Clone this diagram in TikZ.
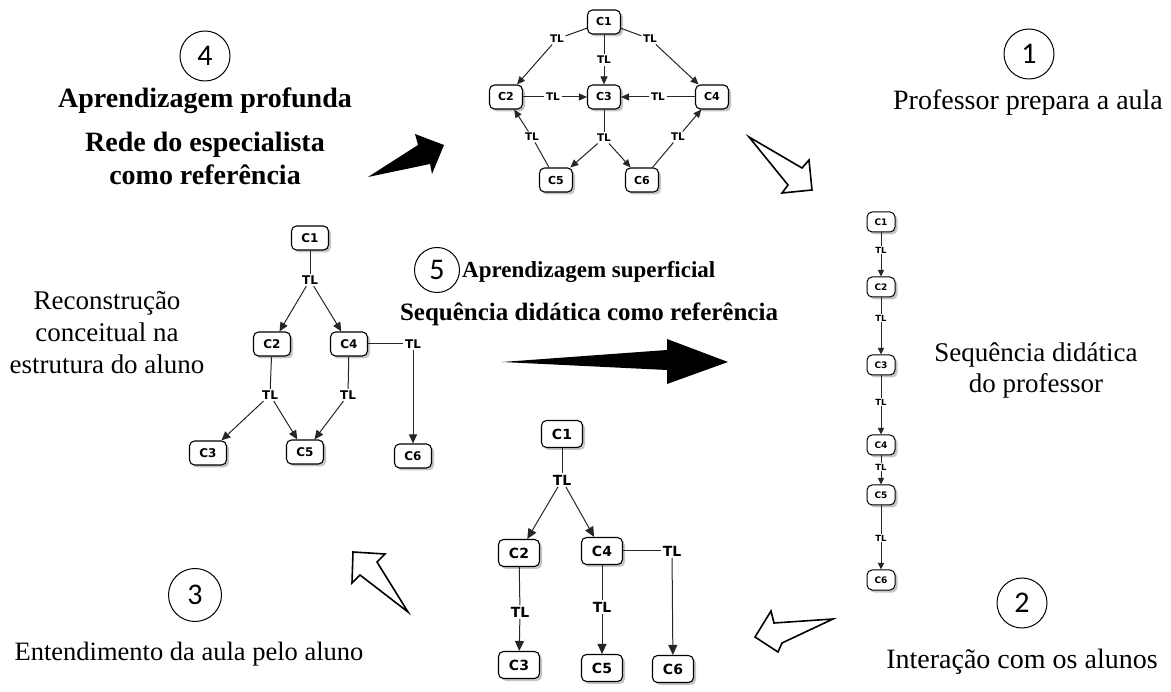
\documentclass[tikz,border=0pt]{standalone}
\usepackage{fontspec}
\setmainfont{Liberation Serif}
\newfontfamily\boxfont{DejaVu Sans}
\newfontfamily\numfont{Carlito}
\usetikzlibrary{arrows.meta,shadows}

\begin{document}
\begin{tikzpicture}[x=1pt,y=-1pt,
  concept/.style={draw=black, line width=1.1pt, rounded corners=5pt, fill=white,
    inner sep=0pt,
    drop shadow={shadow xshift=2.5pt, shadow yshift=-2.5pt, fill=black!45}},
  topc/.style={concept, minimum width=33pt, minimum height=24pt,
    font=\boxfont\bfseries\fontsize{11}{11}\selectfont},
  leftc/.style={concept, minimum width=37pt, minimum height=24pt,
    font=\boxfont\bfseries\fontsize{12}{12}\selectfont},
  botc/.style={concept, minimum width=41pt, minimum height=27pt,
    font=\boxfont\bfseries\fontsize{14}{14}\selectfont},
  chainc/.style={concept, minimum width=28pt, minimum height=20pt, line width=1pt,
    font=\boxfont\bfseries\fontsize{9}{9}\selectfont},
  tla/.style={inner sep=1.5pt, fill=white, font=\boxfont\bfseries\fontsize{10.5}{10.5}\selectfont},
  tlb/.style={inner sep=1.5pt, fill=white, font=\boxfont\bfseries\fontsize{12}{12}\selectfont},
  tlc/.style={inner sep=1.5pt, fill=white, font=\boxfont\bfseries\fontsize{14}{14}\selectfont},
  tld/.style={inner sep=1pt, fill=white, font=\boxfont\bfseries\fontsize{8.5}{8.5}\selectfont},
  link/.style={draw=black!85, line width=1pt},
  arra/.style={link, -{Triangle[length=8pt,width=7pt]}},
  arrb/.style={link, -{Triangle[length=9pt,width=8pt]}},
  arrc/.style={link, -{Triangle[length=10pt,width=9pt]}},
  arrd/.style={link, -{Triangle[length=6.5pt,width=6pt]}},
  numc/.style={circle, draw=black, line width=1pt, minimum size=50pt, inner sep=0pt,
    font=\numfont\fontsize{30}{30}\selectfont},
  txt/.style={anchor=base, font=\fontsize{28}{32}\selectfont, inner sep=0pt},
  txtb/.style={txt, font=\bfseries\fontsize{28}{32}\selectfont},
  blackarrow/.style={fill=black},
  whitearrow/.style={draw=black, fill=white, line width=1.6pt, line join=miter}
]
\useasboundingbox (0,0) rectangle (1171,692);

% ---------- expert network (top) ----------
\node[topc] (a1) at (604,22) {C1};
\node[topc] (a2) at (506,97) {C2};
\node[topc] (a3) at (604,97) {C3};
\node[topc] (a4) at (712,97) {C4};
\node[topc] (a5) at (556,180) {C5};
\node[topc] (a6) at (642,180) {C6};
\node[tla] (a12) at (557,39) {TL};
\node[tla] (a13) at (604,60) {TL};
\node[tla] (a14) at (650,39) {TL};
\node[tla] (a23) at (553,97) {TL};
\node[tla] (a43) at (658,97) {TL};
\node[tla] (a356) at (604,138) {TL};
\node[tla] (a52) at (532,137) {TL};
\node[tla] (a64) at (678,137) {TL};
\draw[link] (a1) -- (a12); \draw[arra] (a12) -- (a2);
\draw[link] (a1) -- (a13); \draw[arra] (a13) -- (a3);
\draw[link] (a1) -- (a14); \draw[arra] (a14) -- (a4);
\draw[link] (a2) -- (a23); \draw[arra] (a23) -- (a3);
\draw[link] (a4) -- (a43); \draw[arra] (a43) -- (a3);
\draw[link] (a3) -- (a356); \draw[arra] (a356) -- (a5); \draw[arra] (a356) -- (a6);
\draw[link] (a5) -- (a52); \draw[arra] (a52) -- (a2);
\draw[link] (a6) -- (a64); \draw[arra] (a64) -- (a4);

% ---------- student reconstruction (left) ----------
\node[leftc] (b1) at (310,238) {C1};
\node[leftc] (b2) at (272,344) {C2};
\node[leftc] (b4) at (349,344) {C4};
\node[leftc] (b3) at (208,453) {C3};
\node[leftc] (b5) at (305,452) {C5};
\node[leftc] (b6) at (413,456) {C6};
\node[tlb] (bt1) at (310,280) {TL};
\node[tlb] (bt2) at (270,395) {TL};
\node[tlb] (bt4) at (348,395) {TL};
\node[tlb] (bt46) at (413,344) {TL};
\draw[link] (b1) -- (bt1); \draw[arrb] (bt1) -- (b2); \draw[arrb] (bt1) -- (b4);
\draw[link] (b2) -- (bt2); \draw[arrb] (bt2) -- (b3); \draw[arrb] (bt2) -- (b5);
\draw[link] (b4) -- (bt4); \draw[arrb] (bt4) -- (b5);
\draw[link] (b4) -- (bt46); \draw[arrb] (bt46) -- (b6);

% ---------- lesson as received (bottom) ----------
\node[botc] (c1) at (562,434) {C1};
\node[botc] (c2) at (519,553) {C2};
\node[botc] (c4) at (602,551) {C4};
\node[botc] (c3) at (519,665) {C3};
\node[botc] (c5) at (602,668) {C5};
\node[botc] (c6) at (673,669) {C6};
\node[tlc] (ct1) at (562,480) {TL};
\node[tlc] (ct2) at (520,612) {TL};
\node[tlc] (ct4) at (602,607) {TL};
\node[tlc] (ct46) at (672,551) {TL};
\draw[link] (c1) -- (ct1); \draw[arrc] (ct1) -- (c2); \draw[arrc] (ct1) -- (c4);
\draw[link] (c2) -- (ct2); \draw[arrc] (ct2) -- (c3);
\draw[link] (c4) -- (ct4); \draw[arrc] (ct4) -- (c5);
\draw[link] (c4) -- (ct46); \draw[arrc] (ct46) -- (c6);

% ---------- teaching sequence (right) ----------
\node[chainc] (d1) at (881,222) {C1};
\node[chainc] (d2) at (881,287) {C2};
\node[chainc] (d3) at (881,365) {C3};
\node[chainc] (d4) at (881,445) {C4};
\node[chainc] (d5) at (881,495) {C5};
\node[chainc] (d6) at (881,580) {C6};
\node[tld] (dt1) at (881,250) {TL};
\node[tld] (dt2) at (881,318) {TL};
\node[tld] (dt3) at (881,402) {TL};
\node[tld] (dt4) at (881,467) {TL};
\node[tld] (dt5) at (881,538) {TL};
\draw[link] (d1) -- (dt1); \draw[arrd] (dt1) -- (d2);
\draw[link] (d2) -- (dt2); \draw[arrd] (dt2) -- (d3);
\draw[link] (d3) -- (dt3); \draw[arrd] (dt3) -- (d4);
\draw[link] (d4) -- (dt4); \draw[arrd] (dt4) -- (d5);
\draw[link] (d5) -- (dt5); \draw[arrd] (dt5) -- (d6);

% ---------- step numbers ----------
\node[numc] (n1) at (1029,54) {1};
\node[numc] (n2) at (1022,603) {2};
\node[numc, minimum size=53pt] (n3) at (195,595) {3};
\node[numc] (n4) at (205,56) {4};
\node[numc, minimum size=45pt] (n5) at (437,270) {5};

% ---------- captions ----------
\node[txt] (cap1) at (1028,110) {Professor prepara a aula};
\node[txt] (cap2) at (1022,668) {Interação com os alunos};
\node[txt, font=\fontsize{26.5}{30}\selectfont] (cap3) at (189,660) {Entendimento da aula pelo aluno};
\node[txtb] (cap4a) at (205,108) {Aprendizagem profunda};
\node[txtb, align=center, font=\bfseries\fontsize{28}{33}\selectfont] (cap4b) at (205,185) {Rede do especialista\\como referência};
\node[txtb, anchor=base west, font=\bfseries\fontsize{23}{28}\selectfont] (cap5a) at (462,278) {Aprendizagem superficial};
\node[txtb, font=\bfseries\fontsize{25}{28}\selectfont] (cap5b) at (589,321) {Sequência didática como referência};
\node[txt, align=center, font=\fontsize{27}{31}\selectfont] (capseq) at (1036,393) {Sequência didática\\do professor};
\node[txt, align=center, font=\fontsize{27}{32}\selectfont] (caprec) at (107,374) {Reconstrução\\conceitual na\\estrutura do aluno};

% ---------- big block arrows ----------
\fill[blackarrow] (368,177) -- (418,145) -- (415,134) -- (444,145) -- (432,174) -- (430,164) -- cycle;
\fill[blackarrow] (502,362) -- (667,350) -- (667,339) -- (728,362) -- (667,384) -- (667,370) -- cycle;
\draw[whitearrow] (749,137) -- (788,185) -- (782,193) -- (812,190) -- (809,160) -- (802,168) -- cycle;
\draw[whitearrow] (833,619) -- (774,623) -- (771,611) -- (755,637) -- (778,652) -- (782,643) -- cycle;
\draw[whitearrow] (408,612) -- (360,575) -- (352,583) -- (353,552) -- (385,554) -- (377,562) -- cycle;
\end{tikzpicture}
\end{document}
